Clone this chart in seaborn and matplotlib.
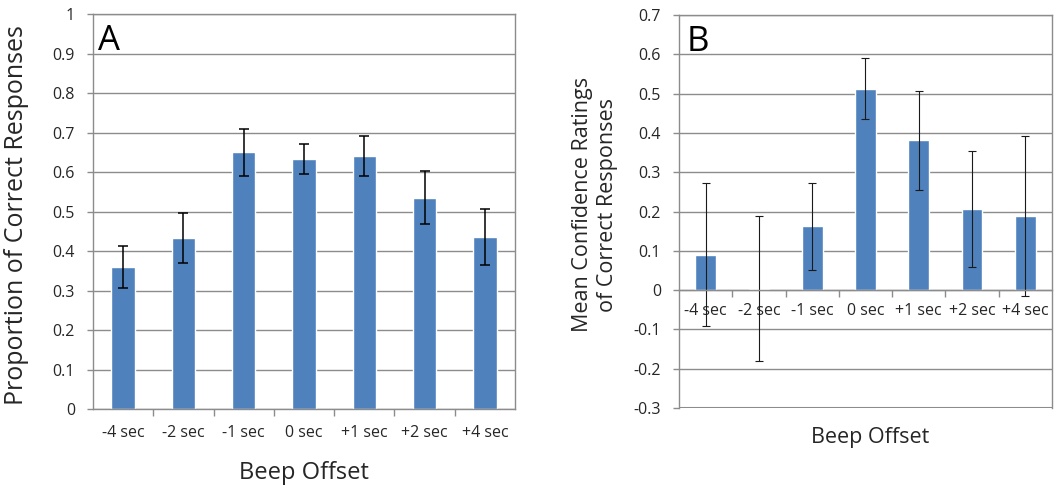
import matplotlib
matplotlib.use("Agg")
import matplotlib.pyplot as plt
import seaborn as sns
import pandas as pd

# data
offsets = ['-4 sec', '-2 sec', '-1 sec', '0 sec', '+1 sec', '+2 sec', '+4 sec']
prop_correct = [0.359, 0.433, 0.650, 0.633, 0.641, 0.535, 0.436]
prop_err = [0.053, 0.064, 0.060, 0.038, 0.051, 0.067, 0.071]
conf_correct = [0.090, 0.004, 0.162, 0.513, 0.381, 0.206, 0.189]
conf_err = [0.182, 0.184, 0.111, 0.077, 0.125, 0.148, 0.203]

sns.set_style("white")
plt.rcParams['font.family'] = ['Open Sans', 'DejaVu Sans']

bar_color = '#4F81BD'
grid_color = '#8c8c8c'
text_color = '#262626'

df_a = pd.DataFrame({'Offset': offsets, 'Value': prop_correct})
df_b = pd.DataFrame({'Offset': offsets, 'Value': conf_correct})

fig = plt.figure(figsize=(10.56, 4.9), dpi=100)
ax_a = fig.add_axes([0.0881, 0.1653, 0.3996, 0.806])
ax_b = fig.add_axes([0.643, 0.1673, 0.3532, 0.802])


def style_axis(ax):
    ax.set_xlim(-0.5, len(offsets) - 0.5)
    ax.yaxis.grid(True, color=grid_color, linewidth=1.0)
    ax.set_axisbelow(True)
    for side in ['left', 'right', 'top', 'bottom']:
        ax.spines[side].set_color(grid_color)
        ax.spines[side].set_linewidth(1.0)
    ax.tick_params(axis='y', left=True, length=4, width=1, color=grid_color,
                   labelsize=11.5, labelcolor=text_color, pad=9)
    # tick marks between categories, labels at centres
    ax.set_xticks([i + 0.5 for i in range(len(offsets) - 1)], minor=True)
    ax.tick_params(axis='x', which='minor', bottom=True, length=5, width=1,
                   color=grid_color)
    ax.tick_params(axis='x', which='major', bottom=False, labelsize=11.5,
                   labelcolor=text_color, pad=8)


# panel A
sns.barplot(data=df_a, x='Offset', y='Value', color=bar_color, width=0.39,
            saturation=1, errorbar=None, ax=ax_a)
ax_a.errorbar(range(len(offsets)), prop_correct, yerr=prop_err, fmt='none',
              ecolor='black', elinewidth=1.1, capsize=3.5, capthick=1.1)
ax_a.set_ylim(0, 1)
ax_a.set_yticks([i / 10 for i in range(11)])
ax_a.set_yticklabels(['0'] + [f'{i / 10:.1f}' for i in range(1, 10)] + ['1'])
style_axis(ax_a)
ax_a.set_xlabel('Beep Offset', fontsize=17, color=text_color, va='center')
ax_a.xaxis.set_label_coords(0.5, -0.162)
ax_a.set_ylabel('Proportion of Correct Responses', fontsize=18,
                color=text_color, va='center')
ax_a.yaxis.set_label_coords(-0.1825, 0.49)
ax_a.text(0.012, 0.975, 'A', transform=ax_a.transAxes, fontsize=25,
          va='top', ha='left', color='black')

# panel B
sns.barplot(data=df_b, x='Offset', y='Value', color=bar_color, width=0.39,
            saturation=1, errorbar=None, ax=ax_b)
ax_b.errorbar(range(len(offsets)), conf_correct, yerr=conf_err, fmt='none',
              ecolor='#1a1a1a', elinewidth=0.8, capsize=3, capthick=0.8)
ax_b.set_ylim(-0.3, 0.7)
ax_b.set_yticks([i / 10 for i in range(-3, 8)])
ax_b.set_yticklabels([f'{i / 10:.1f}' if i != 0 else '0' for i in range(-3, 8)])
style_axis(ax_b)
ax_b.tick_params(axis='x', which='major', pad=6)
ax_b.spines['bottom'].set_position(('data', 0))
ax_b.axhline(-0.3, color=grid_color, linewidth=1.5, zorder=0)
ax_b.set_xlabel('')
ax_b.text(0.512, -0.074, 'Beep Offset', transform=ax_b.transAxes,
          fontsize=15.5, ha='center', va='center', color=text_color)
ax_b.set_ylabel('Mean Confidence Ratings\nof Correct Responses', fontsize=15.5,
                color=text_color, va='center', linespacing=1.25)
ax_b.yaxis.set_label_coords(-0.225, 0.517)
ax_b.text(0.02, 0.975, 'B', transform=ax_b.transAxes, fontsize=25,
          va='top', ha='left', color='black')

fig.savefig('out.png', dpi=100, facecolor='white')
